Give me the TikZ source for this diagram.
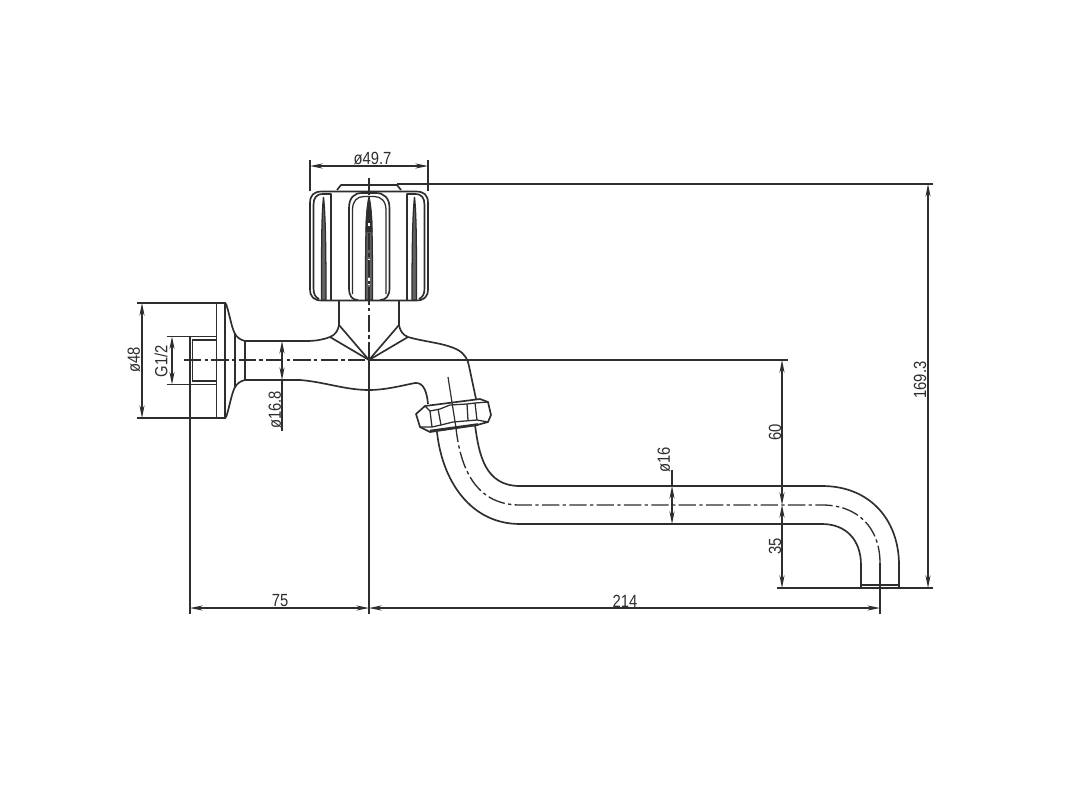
\documentclass[tikz,border=0pt]{standalone}
\usepackage{fontspec}
\newfontfamily\dimfont[FakeStretch=0.84]{Liberation Sans}
\usetikzlibrary{arrows.meta}
\definecolor{ink}{HTML}{2E2E2E}
\tikzset{
  part/.style={draw=ink,line width=1.25pt,line join=round},
  thin part/.style={draw=ink,line width=0.95pt},
  dimline/.style={draw=ink,line width=0.9pt},
  dimarrow/.style={dimline,{Stealth[length=9.5pt,width=3.8pt]}-{Stealth[length=9.5pt,width=3.8pt]}},
  axisline/.style={draw=ink,line width=1pt,dash pattern=on 13pt off 2.5pt on 2.5pt off 2.5pt},
  dimtext/.style={text=ink,font=\dimfont\fontsize{13.2}{14}\selectfont,inner sep=0pt},
  updim/.style={dimtext,rotate=90}
}
\begin{document}
\begin{tikzpicture}[x=0.75pt,y=-0.75pt]
\useasboundingbox[fill=white] (0,0) rectangle (1092,792);
% knob
\draw[part] (337,190) -- (341,185) -- (397,185) -- (401,190);
\draw[part] (322,191.5) -- (416,191.5) .. controls (424,191.5) and (428,195) .. (428,203)
  -- (428,289) .. controls (428,297) and (424,300.5) .. (416,300.5)
  -- (322,300.5) .. controls (314,300.5) and (310,297) .. (310,289)
  -- (310,203) .. controls (310,195) and (314,191.5) .. (322,191.5);
% ribs of the knob
\draw[part] (331,300) -- (331,194) -- (323,194) .. controls (316,194) and (313.5,198) .. (313.5,205)
  -- (313.5,288) .. controls (313.5,294) and (315,297) .. (319,299);
\draw[part] (407,300) -- (407,194) -- (415,194) .. controls (422,194) and (424.5,198) .. (424.5,205)
  -- (424.5,288) .. controls (424.5,294) and (423,297) .. (419,299);
\draw[part] (358,300) .. controls (352,300) and (349,296) .. (349,288) -- (349,208)
  .. controls (349,198) and (354,193) .. (362,193) -- (376,193)
  .. controls (384,193) and (389.5,198) .. (389.5,208) -- (389.5,288)
  .. controls (389.5,296) and (386,300) .. (380,300);
\draw[thin part] (352.5,294) -- (352.5,210) .. controls (352.5,201) and (357,196.5) .. (364,196.5) -- (374,196.5)
  .. controls (381,196.5) and (386,201) .. (386,210) -- (386,294);
% grooves
\draw[thin part,fill=ink!75] (369,197) .. controls (372,210) and (372.5,230) .. (372.5,300) -- (365.5,300)
  .. controls (365.5,230) and (366,210) .. (369,197);
\fill[ink] (369,197) .. controls (372,210) and (372.5,220) .. (372.5,232) -- (365.5,232) .. controls (365.5,220) and (366,210) .. (369,197);
\draw[thin part,fill=ink!75] (323.5,197) .. controls (325.5,215) and (326,250) .. (326,300) -- (321.5,300)
  .. controls (321.5,250) and (321.5,215) .. (323.5,197);
\draw[thin part,fill=ink!75] (414.5,197) .. controls (416.5,215) and (416.5,250) .. (416.5,300) -- (412,300)
  .. controls (412,250) and (412.5,215) .. (414.5,197);
\draw[white,line width=1pt,dash pattern=on 5pt off 9pt] (369,222) -- (369,298);
% stem and body
\draw[part] (339,301) -- (339,325) .. controls (338,331) and (335,335) .. (330,337)
  .. controls (322,340) and (315,341) .. (306,341) -- (245,341);
\draw[part] (399,301) -- (399,325) .. controls (400,331) and (403,335) .. (408,337)
  .. controls (425,342) and (445,343) .. (458,350) .. controls (465,354) and (468,360) .. (469,366) -- (476,399);
\draw[part] (339,325) -- (369,360) -- (399,325);
\draw[part] (330,337) -- (369,360) -- (408,337);
\draw[part] (245,380) -- (300,380) .. controls (325,382) and (345,390) .. (369,390)
  .. controls (385,390) and (400,386) .. (415,383) .. controls (424,382) and (427,393) .. (428,404);
% flange
\draw[part] (245,341) -- (245,380);
\draw[part] (216.5,303) -- (216.5,418);
\draw[line width=2.2pt,draw=ink] (225,303) -- (225,418);
\draw[part] (226,303.5) .. controls (230,316) and (231,325) .. (234.5,333)
  .. controls (237,338) and (241,340) .. (245,341);
\draw[part] (226,417.5) .. controls (230,405) and (231,396) .. (234.5,388)
  .. controls (237,383) and (241,381) .. (245,380);
\draw[part] (235,333) -- (235,388);
% thread
\draw[part] (216,336.5) -- (190,336.5) (216,384.5) -- (190,384.5);
\draw[thin part] (216,340) -- (192.5,340) -- (192.5,381) -- (216,381);
% nut
\draw[part,fill=white] (416,414) -- (425,406) -- (480,399) -- (488,402) -- (491,415) -- (488,422) -- (477,425)
  -- (430,432) -- (420,427) -- cycle;
\draw[thin part] (425,406) -- (430,411) -- (440,409) -- (450,405) -- (467,404) -- (475,403) -- (488,402);
\draw[thin part] (430,411) -- (432,427) (438,409) -- (441,425) (467,404) -- (468,420) (475,403) -- (477,420);
\draw[thin part] (420,427) -- (432,427) -- (441,425) -- (453,422) -- (477,420) -- (488,422);
\draw[draw=ink,line width=1.9pt] (430,431) -- (478,424.5);
% spout
\draw[part] (437,432) .. controls (442,480) and (470,524) .. (520,524) -- (822,524)
  .. controls (846,524) and (861,540) .. (861,565) -- (861,587);
\draw[part] (475,425) .. controls (479,455) and (485,486) .. (520,486) -- (822,486)
  .. controls (870,486) and (899,520) .. (899,565) -- (899,587);
\draw[part] (861,585) -- (899,585);
\draw[axisline] (880,563) .. controls (880,528) and (858,505) .. (822,505) -- (520,505)
  .. controls (480,505) and (461,475) .. (456,428);
\draw[dimline] (448,377) -- (456,428);
\draw[dimline] (880,563) -- (880,614);
% axes
\draw[axisline] (369,178) -- (369,360);
\draw[axisline] (184,360) -- (369,360);
\draw[dimline] (369,360) -- (369,614);
\draw[dimline] (369,360) -- (788,360);
% extension lines
\draw[dimline] (310,160) -- (310,191) (428,160) -- (428,191);
\draw[dimline] (397,184) -- (933,184);
\draw[dimline] (777,588) -- (933,588);
\draw[dimline] (137,303) -- (226,303) (137,418) -- (226,418);
\draw[dimline] (167,336.5) -- (190,336.5) (167,384.5) -- (190,384.5);
\draw[dimline] (190,336.5) -- (190,614);
% dimensions
\draw[dimarrow] (310,166) -- (428,166);
\draw[dimarrow] (928,184) -- (928,588);
\draw[dimarrow] (142,303) -- (142,418);
\draw[dimarrow] (172,336.5) -- (172,384.5);
\draw[dimarrow] (282,341) -- (282,380);
\draw[dimline] (282,380) -- (282,431);
\draw[dimarrow] (782,360) -- (782,505);
\draw[dimarrow] (782,505) -- (782,588);
\draw[dimarrow] (672,486) -- (672,524);
\draw[dimline] (672,470) -- (672,486);
\draw[dimarrow] (190,608) -- (369,608);
\draw[dimarrow] (369,608) -- (880,608);
% labels
\node[dimtext] (knobdia) at (372.5,159) {ø49.7};
\node[updim] (height) at (920,380) {169.3};
\node[updim] (flangedia) at (134,360) {ø48};
\node[updim] (threadsize) at (161,361) {G1/2};
\node[updim] (bodydia) at (275,410) {ø16.8};
\node[updim] (spoutdia) at (664,460) {ø16};
\node[updim] (axisdrop) at (775,432) {60};
\node[updim] (spoutdrop) at (775,546) {35};
\node[dimtext] (walldist) at (280,601) {75};
\node[dimtext] (reach) at (625,601) {214};
\end{tikzpicture}
\end{document}
